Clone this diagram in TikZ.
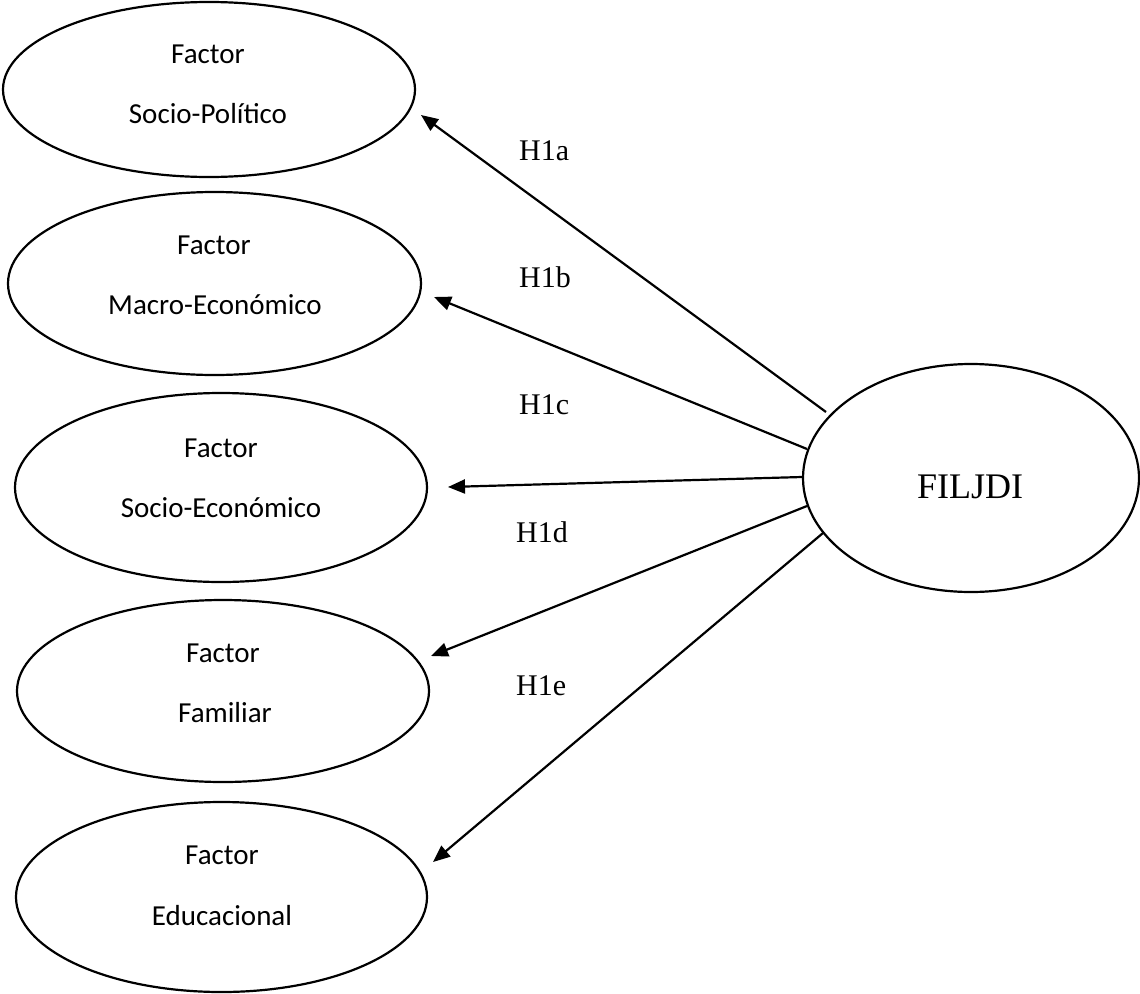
\documentclass[tikz,border=0pt]{standalone}
\usepackage{fontspec}
\setmainfont{Liberation Serif}
\newfontfamily\calib{Carlito}
\usetikzlibrary{shapes.geometric,arrows.meta}
\tikzset{
  factor/.style={draw=black, line width=2.2pt, ellipse, inner sep=0pt},
  lbl/.style={anchor=base, inner sep=0pt, font=\calib\fontsize{29}{32}\selectfont},
  hyp/.style={anchor=base west, inner sep=0pt, font=\fontsize{30}{34}\selectfont},
  arr/.style={line width=2.2pt, -{Triangle[length=17pt,width=14pt]}}
}
\begin{document}
\begin{tikzpicture}[x=1pt,y=-1pt]
\useasboundingbox (0,0) rectangle (1140,993);
% ellipses
\node[factor, minimum width=412pt, minimum height=175pt] (e1) at (209,89.5) {};
\node[factor, minimum width=413pt, minimum height=183pt] (e2) at (214.5,283.5) {};
\node[factor, minimum width=412pt, minimum height=189pt] (e3) at (221,487.5) {};
\node[factor, minimum width=412pt, minimum height=182pt] (e4) at (223,691) {};
\node[factor, minimum width=411pt, minimum height=190pt] (e5) at (221.5,897) {};
\node[factor, minimum width=336pt, minimum height=228pt] (fil) at (971,478) {};
% texts
\node[lbl] (t1a) at (208,63) {Factor};
\node[lbl] (t1b) at (208,123) {Socio-Político};
\node[lbl] (t2a) at (214,254) {Factor};
\node[lbl] (t2b) at (215,314) {Macro-Económico};
\node[lbl] (t3a) at (221,457) {Factor};
\node[lbl] (t3b) at (221,517) {Socio-Económico};
\node[lbl] (t4a) at (223,662) {Factor};
\node[lbl] (t4b) at (225,722) {Familiar};
\node[lbl] (t5a) at (222,864) {Factor};
\node[lbl] (t5b) at (222,925) {Educacional};
\node[anchor=base, inner sep=0pt, font=\fontsize{36}{40}\selectfont] (ft) at (970,498) {FILJDI};
% hypothesis labels
\node[hyp] (h1) at (519,160) {H1a};
\node[hyp] (h2) at (519,287) {H1b};
\node[hyp] (h3) at (519,414) {H1c};
\node[hyp] (h4) at (516,542) {H1d};
\node[hyp] (h5) at (516,695) {H1e};
% connector end points
\coordinate (s1) at (826,412); \coordinate (p1) at (421,115);
\coordinate (s2) at (807,449); \coordinate (p2) at (434,297);
\coordinate (s3) at (802,477); \coordinate (p3) at (448,487);
\coordinate (s4) at (807,506); \coordinate (p4) at (431,656);
\coordinate (s5) at (823,533); \coordinate (p5) at (433,862);
\draw[arr] (s1) -- (p1);
\draw[arr] (s2) -- (p2);
\draw[arr] (s3) -- (p3);
\draw[arr] (s4) -- (p4);
\draw[arr] (s5) -- (p5);
\end{tikzpicture}
\end{document}
